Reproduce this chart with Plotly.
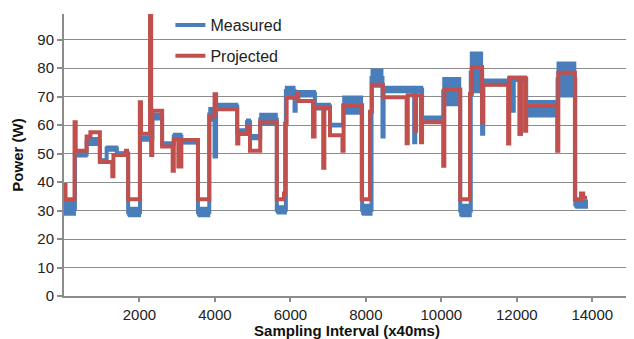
import plotly.graph_objects as go

# ---- Measured power: segments (start sample, low W, high W) ----
meas_x = [0, 290, 600, 950, 1130, 1400, 1700, 2015, 2340, 2600, 2910, 3110,
          3550, 3850, 3990, 4030, 4590, 4850, 4930, 5200, 5640, 5880, 6110,
          6140, 6650, 7050, 7400, 7900, 8150, 8440, 8470, 9280, 9310, 9490,
          10050, 10500, 10780, 11080, 11110, 11800, 11890, 11920, 12070,
          12100, 12250, 13080, 13550]
meas_lo = [28.5, 49, 53, 47, 51, 49.5, 28, 54.5, 62, 52.5, 55, 53.5,
           28, 61.5, 49, 65.5, 56.5, 60, 55, 60, 29, 70.5, 65,
           70, 65.5, 59.5, 64, 28.5, 73.5, 56, 71.5, 54, 71.5, 61.5,
           67, 28, 71.5, 57, 74, 75.5, 65, 75.5, 57,
           75.5, 63, 70, 31]
meas_hi = [33, 50.5, 55.5, 48, 52.5, 50.5, 31, 56, 64, 54, 57, 54.5,
           31, 66, 49, 67.5, 58.5, 62, 56.5, 64, 31.5, 73.5, 65,
           72, 67.5, 60.5, 70, 32, 79.5, 56, 73.5, 54, 73.5, 63,
           76.5, 32, 85.5, 57, 76, 77, 65, 77, 57,
           77, 68.5, 82, 33.5]
meas_end = 13860

# ---- Projected power: step breakpoints ----
proj_x = [0, 40, 280, 310, 600, 700, 950, 1280, 1310, 1640, 1670, 1700, 2010,
          2040, 2280, 2310, 2340, 2600, 2880, 2910, 3030, 3110, 3550, 3850,
          3990, 4030, 4590, 4620, 4850, 4930, 5200, 5640, 5830, 5860, 5900,
          6180, 6210, 6600, 6640, 6870, 6900, 7050, 7380, 7410, 7890, 8110,
          8160, 8450, 9080, 9110, 9300, 9330, 9460, 9490, 10050, 10080,
          10500, 10760, 10810, 11080, 11110, 11770, 11800, 12080, 12110,
          12220, 12250, 13070, 13100, 13540, 13700, 13760]
proj_y = [39, 34, 61, 51, 56, 57.5, 47, 42, 49.5, 51, 49.5, 34, 68,
          57, 100, 49.5, 65, 52.5, 44, 55, 45.5, 54.8, 34, 63,
          70.8, 65.6, 53.5, 57, 59.5, 51, 61, 34, 36, 60.5, 69.6,
          71, 68.5, 56, 66, 45, 66, 56.4, 51, 66.7, 34, 64.7,
          74.2, 69.8, 53.6, 70.5, 58, 70.5, 54, 61, 45.7, 72.5,
          34, 71, 80.4, 61, 74.2, 53.5, 76.6, 57, 76.6,
          58, 66.7, 51, 78.4, 34, 36, 34.5]
proj_end = 13860

x_ticks = [2000, 4000, 6000, 8000, 10000, 12000, 14000]
x_labels = ["2000", "4000", "6000", "8000", "10000", "12000", "14000"]
y_ticks = [0, 10, 20, 30, 40, 50, 60, 70, 80, 90]

BLUE = "#4a7ebb"
RED = "#c0504d"
GRID = "#8c8c8c"
FONT = "Liberation Sans, Arial, Helvetica, sans-serif"

# measured band polygons
band_x, band_y = [], []
ends = meas_x[1:] + [meas_end]
for x0, x1, lo, hi in zip(meas_x, ends, meas_lo, meas_hi):
    band_x += [x0, x1, x1, x0, x0, None]
    band_y += [lo, lo, hi, hi, lo, None]

meas_mid = [(lo + hi) / 2 for lo, hi in zip(meas_lo, meas_hi)]

fig = go.Figure()
fig.add_trace(go.Scatter(x=band_x, y=band_y, mode="lines", fill="toself",
                         fillcolor=BLUE, line=dict(color=BLUE, width=2),
                         showlegend=False, hoverinfo="skip"))
fig.add_trace(go.Scatter(x=meas_x + [meas_end], y=meas_mid + [meas_mid[-1]],
                         mode="lines", line=dict(color=BLUE, width=4, shape="hv"),
                         name="Measured", legendgroup="m"))
fig.add_trace(go.Scatter(x=proj_x + [proj_end], y=proj_y + [proj_y[-1]],
                         mode="lines", line=dict(color=RED, width=4, shape="hv"),
                         name="Projected", legendgroup="p"))

# the page body has an 8px margin, so the figure is sized/placed to compensate
fig.update_layout(
    width=626, height=331,
    margin=dict(l=56, r=4, t=0, b=43),
    paper_bgcolor="white", plot_bgcolor="white",
    font=dict(family=FONT, size=15, color="#222222"),
    legend=dict(x=0.188, y=1.021, xanchor="left", yanchor="top",
                bgcolor="rgba(0,0,0,0)", font=dict(size=16, color="#222222"),
                traceorder="grouped", tracegroupgap=7),
    xaxis=dict(range=[0, 15000], tickvals=x_ticks, ticktext=x_labels,
               showgrid=False, automargin=False,
               showline=True, linecolor=GRID, linewidth=2,
               ticks="outside", ticklen=4, tickcolor=GRID, tickwidth=2,
               zeroline=False,
               title=dict(text="<b>Sampling Interval (x40ms)</b>",
                          font=dict(size=15, color="#111111"), standoff=0)),
    yaxis=dict(range=[0, 99], tickvals=y_ticks, showgrid=True, automargin=False,
               gridcolor=GRID, gridwidth=1,
               showline=True, linecolor=GRID, linewidth=2,
               ticks="outside", ticklen=5, tickcolor=GRID, tickwidth=2,
               zeroline=False,
               title=dict(text="<b>Power (W)</b>",
                          font=dict(size=15, color="#111111"), standoff=10)),
)

fig.write_html("out.html")
